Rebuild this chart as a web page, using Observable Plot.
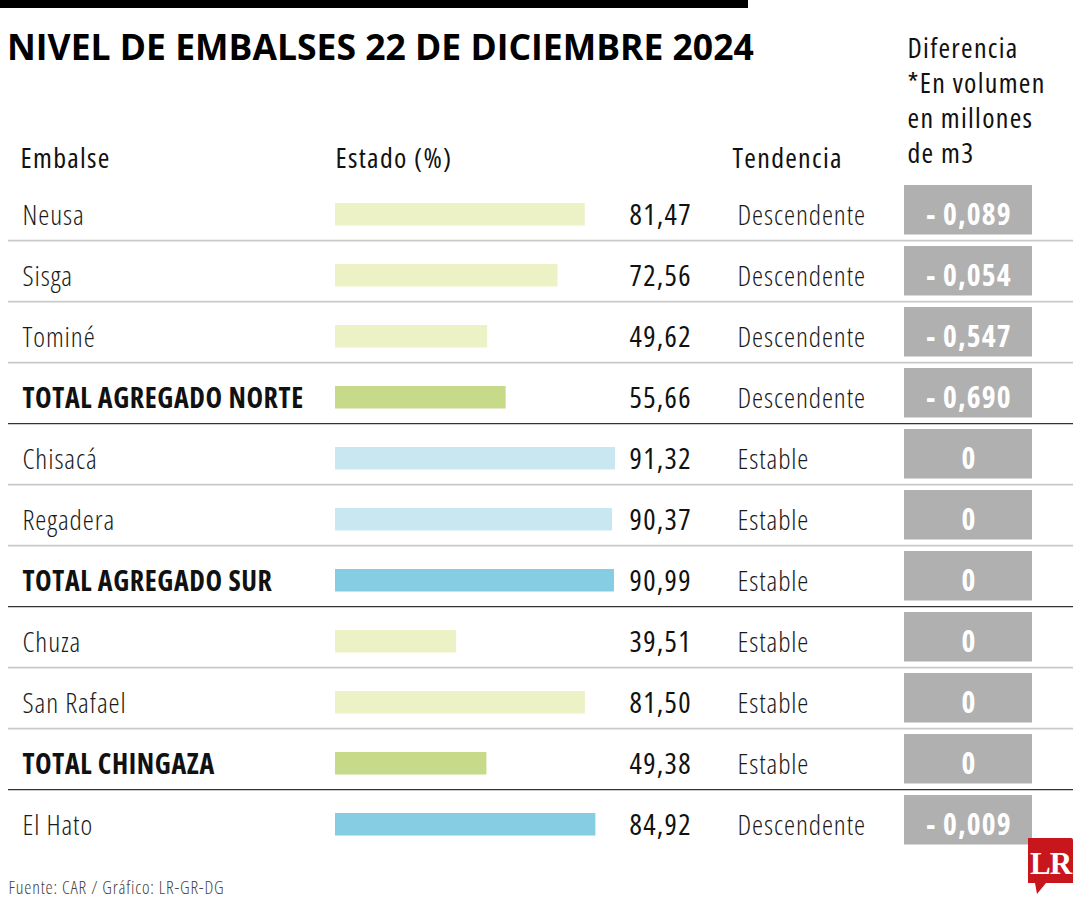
<!DOCTYPE html>
<html><head><meta charset="utf-8">
<script src="https://cdn.jsdelivr.net/npm/d3@7"></script>
<script src="https://cdn.jsdelivr.net/npm/@observablehq/plot@0.6"></script>
<style>
body{margin:0;background:#fff;}
#wrap{position:relative;width:1080px;height:900px;overflow:hidden;background:#fff;}
#chart{position:absolute;left:0;top:0;}
#topbar{position:absolute;left:0;top:0;width:748px;height:8px;background:#000;z-index:2;}
#logo{position:absolute;left:1024px;top:834px;z-index:2;}
#chart svg text{font-stretch:75%;}
#chart g[font-size="35.5"] text{font-stretch:100%;}
#chart g[font-size="28"][font-weight="300"] text{letter-spacing:0.9px;}
#chart g[font-size="28"][font-weight="700"] text{letter-spacing:0.6px;}
#chart g[font-size="28"][font-weight="400"] text{letter-spacing:1.3px;}
#chart g[font-size="29"] text{letter-spacing:1.3px;}
#chart g[font-size="29.5"] text{letter-spacing:1.2px;}
#chart g[font-size="18"] text{letter-spacing:0.8px;}
</style></head>
<body>
<div id="wrap"><div id="chart"></div><div id="topbar"></div>
<svg id="logo" width="56" height="66" viewBox="1024 834 56 66">
  <path d="M1028,838 H1071 Q1073,838 1073,840 V883 H1046 L1037,894 L1035,883 H1028 Z" fill="#c8161d"/>
  <text x="1050.5" y="874" text-anchor="middle" font-family="'Liberation Serif', 'DejaVu Serif', serif" font-weight="700" font-size="31" fill="#fff" letter-spacing="-1">LR</text>
</svg>
</div>
<script>
// ---- data ----
const titulo = "NIVEL DE EMBALSES 22 DE DICIEMBRE 2024";
const encabezados = ["Embalse", "Estado (%)", "Tendencia"];
const encabezadoDiferencia = "Diferencia\n*En volumen\nen millones\nde m3";
const fuente = "Fuente: CAR / Gráfico: LR-GR-DG";

const embalses = ["Neusa", "Sisga", "Tominé", "TOTAL AGREGADO NORTE", "Chisacá", "Regadera", "TOTAL AGREGADO SUR", "Chuza", "San Rafael", "TOTAL CHINGAZA", "El Hato"];
const estado = [81.47, 72.56, 49.62, 55.66, 91.32, 90.37, 90.99, 39.51, 81.50, 49.38, 84.92];
const tendencia = ["Descendente", "Descendente", "Descendente", "Descendente", "Estable", "Estable", "Estable", "Estable", "Estable", "Estable", "Descendente"];
const diferencia = [-0.089, -0.054, -0.547, -0.690, 0, 0, 0, 0, 0, 0, -0.009];
const esTotal = [false, false, false, true, false, false, true, false, false, true, false];
const grupo = ["Norte", "Norte", "Norte", "Total Norte", "Sur", "Sur", "Total Sur", "Chingaza", "Chingaza", "Total Chingaza", "El Hato"];

const grupos = ["Norte", "Total Norte", "Sur", "Total Sur", "Chingaza", "Total Chingaza", "El Hato"];
const coloresGrupo = ["#edf1c6", "#c6da8a", "#c9e7f1", "#86cde3", "#edf1c6", "#c6da8a", "#86cde3"];

const rows = embalses.map((name, i) => ({
  name, estado: estado[i], tendencia: tendencia[i], diferencia: diferencia[i],
  total: esTotal[i], grupo: grupo[i]
}));

// ---- layout ----
const W = 1080, H = 900;
const ML = 8, MR = 7, MT = 177.8, STEP = 61.2;
const MB = H - MT - STEP * rows.length;
const BAR_X0 = 335, PX_PER_PCT = 3.066;
const toX = px => (px - BAR_X0) / PX_PER_PCT;   // pixel column -> x-scale units
const BASE = 15.3;                              // baseline offset from band centre
const FONT = "'Open Sans', 'Noto Sans', sans-serif";

const fmtPct = v => v.toFixed(2).replace(".", ",");
const fmtDiff = v => v === 0 ? "0" : "- " + Math.abs(v).toFixed(3).replace(".", ",");

const items = rows.filter(d => !d.total);
const totals = rows.filter(d => d.total);
const seps = rows.slice(0, -1);

const chart = Plot.plot({
  width: W, height: H,
  marginLeft: ML, marginRight: MR, marginTop: MT, marginBottom: MB,
  style: {fontFamily: FONT, background: "transparent", color: "#1a1a1a"},
  x: {domain: [0, 100], range: [BAR_X0, BAR_X0 + 100 * PX_PER_PCT], axis: null},
  y: {domain: embalses, range: [MT, H - MB], padding: 0, axis: null},
  color: {domain: grupos, range: coloresGrupo},
  marks: [
    // separators
    Plot.ruleY(seps.filter(d => !d.total), {y: "name", dy: STEP / 2, stroke: "#c9c9c9", strokeWidth: 1.6}),
    Plot.ruleY(seps.filter(d => d.total), {y: "name", dy: STEP / 2, stroke: "#333333", strokeWidth: 1.4}),
    // bars
    Plot.barX(rows, {y: "name", x: "estado", fill: "grupo", insetTop: 24, insetBottom: 14.5}),
    // diff boxes
    Plot.barX(rows, {y: "name", x1: toX(904), x2: toX(1032), fill: "#b1b0b0", insetTop: 6, insetBottom: 5.5}),
    // names
    Plot.text(items, {y: "name", text: "name", frameAnchor: "left", dx: 22 - ML, dy: BASE, lineAnchor: "bottom", textAnchor: "start", fontSize: 28, fontWeight: 300, fill: "#1a1a1a"}),
    Plot.text(totals, {y: "name", text: "name", frameAnchor: "left", dx: 22 - ML, dy: BASE, lineAnchor: "bottom", textAnchor: "start", fontSize: 28, fontWeight: 700, fill: "#111"}),
    // values
    Plot.text(rows, {y: "name", text: d => fmtPct(d.estado), frameAnchor: "left", dx: 690 - ML + 1.3, dy: BASE, lineAnchor: "bottom", textAnchor: "end", fontSize: 29, fontWeight: 400, fill: "#111"}),
    // trend
    Plot.text(rows, {y: "name", text: "tendencia", frameAnchor: "left", dx: 737 - ML, dy: BASE, lineAnchor: "bottom", textAnchor: "start", fontSize: 28, fontWeight: 300, fill: "#1a1a1a"}),
    // diff
    Plot.text(rows, {y: "name", text: d => fmtDiff(d.diferencia), frameAnchor: "left", dx: 968 - ML + 0.6, dy: BASE - 0.5, lineAnchor: "bottom", textAnchor: "middle", fontSize: 29.5, fontWeight: 700, fill: "#ffffff"}),
    // headers
    Plot.text([encabezados[0]], {frameAnchor: "top-left", dx: 20 - ML, dy: 167 - MT, lineAnchor: "bottom", textAnchor: "start", fontSize: 28, fontWeight: 400, fill: "#111"}),
    Plot.text([encabezados[1]], {frameAnchor: "top-left", dx: 335 - ML, dy: 167 - MT, lineAnchor: "bottom", textAnchor: "start", fontSize: 28, fontWeight: 400, fill: "#111"}),
    Plot.text([encabezados[2]], {frameAnchor: "top-left", dx: 732 - ML, dy: 167 - MT, lineAnchor: "bottom", textAnchor: "start", fontSize: 28, fontWeight: 400, fill: "#111"}),
    Plot.text([encabezadoDiferencia], {frameAnchor: "top-left", dx: 907 - ML, dy: 162 - MT, lineAnchor: "bottom", textAnchor: "start", lineHeight: 1.24, fontSize: 28, fontWeight: 400, fill: "#111"}),
    // title
    Plot.text([titulo], {frameAnchor: "top-left", dx: -1.5, dy: 59.5 - MT, lineAnchor: "bottom", textAnchor: "start", fontSize: 35.5, fontWeight: 700, fill: "#000"}),
    // source
    Plot.text([fuente], {frameAnchor: "bottom-left", dx: 0, dy: 893 - (H - MB), lineAnchor: "bottom", textAnchor: "start", fontSize: 18, fontWeight: 300, fill: "#444"})
  ]
});
document.getElementById("chart").appendChild(chart);
</script>
</body></html>
